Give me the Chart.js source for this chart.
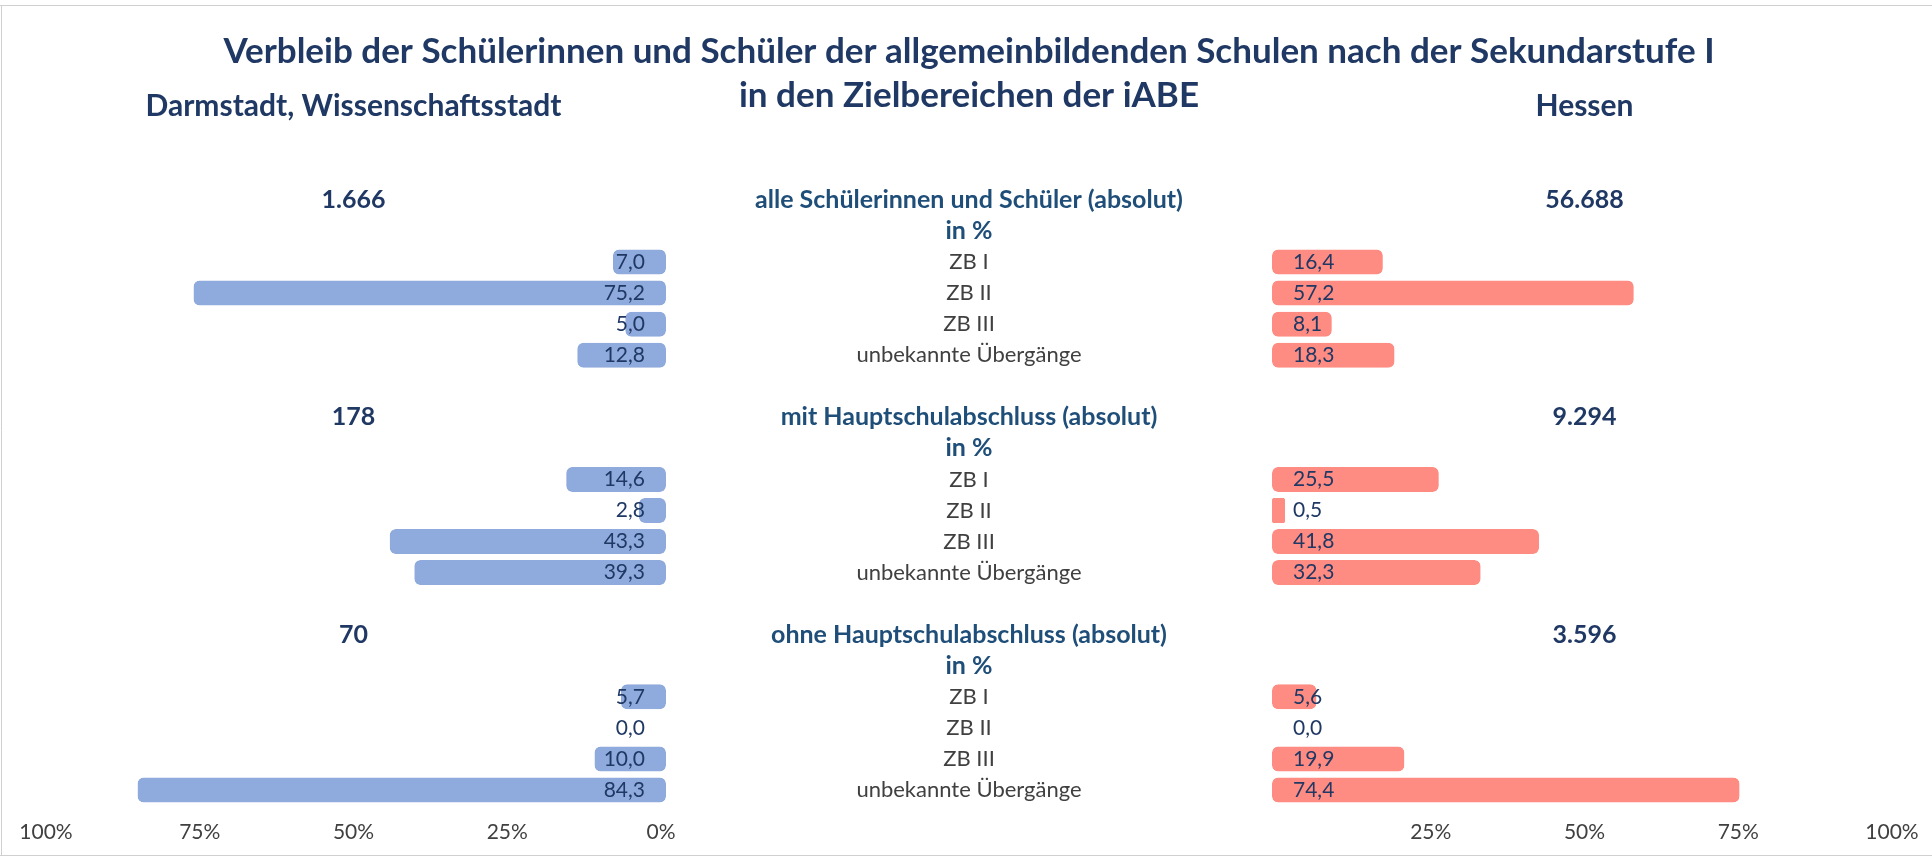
<!DOCTYPE html>
<html>
<head>
<meta charset="utf-8">
<title>Verbleib nach der Sekundarstufe I</title>
<script src="https://cdn.jsdelivr.net/npm/chart.js@4"></script>
<style>
  html, body { margin: 0; padding: 0; background: #fff; }
  #wrap { position: relative; width: 1932px; height: 857px; }
  #iabeChart { display: block; }
</style>
</head>
<body>
<div id="wrap"><canvas id="iabeChart" width="1932" height="857"></canvas></div>
<script>
// chart data
const titleLines = ['Verbleib der Schülerinnen und Schüler der allgemeinbildenden Schulen nach der Sekundarstufe I', 'in den Zielbereichen der iABE'];
const regionLeft = 'Darmstadt, Wissenschaftsstadt';
const regionRight = 'Hessen';
const groupLabels = ['alle Schülerinnen und Schüler (absolut)', 'mit Hauptschulabschluss (absolut)', 'ohne Hauptschulabschluss (absolut)'];
const unitLabel = 'in %';
const categories = ['ZB I', 'ZB II', 'ZB III', 'unbekannte Übergänge'];
const darmstadtAbs = ['1.666', '178', '70'];
const hessenAbs = ['56.688', '9.294', '3.596'];
const darmstadtPct = [
    [7.0, 75.2, 5.0, 12.8],
    [14.6, 2.8, 43.3, 39.3],
    [5.7, 0.0, 10.0, 84.3]
];
const hessenPct = [
    [16.4, 57.2, 8.1, 18.3],
    [25.5, 0.5, 41.8, 32.3],
    [5.6, 0.0, 19.9, 74.4]
];
const tickValues = [0, 25, 50, 75, 100];

const navy = '#1F3864';
const blue = '#1F4E79';
const grey = '#404040';
const FONT = 'Lato, sans-serif';

// one row per line of the chart: header, "in %", the four categories, blank
const rows = [];
groupLabels.forEach(function(g, gi) {
    rows.push({ type: 'head', g: gi });
    rows.push({ type: 'unit', g: gi });
    categories.forEach(function(c, ci) {
        rows.push({ type: 'cat', g: gi, c: ci });
    });
    if (gi < groupLabels.length - 1) rows.push({ type: 'blank' });
});
const rowLabels = rows.map(function(r) { return r.type === 'cat' ? categories[r.c] : ''; });
const leftData = rows.map(function(r) { return r.type === 'cat' ? darmstadtPct[r.g][r.c] : null; });
const rightData = rows.map(function(r) { return r.type === 'cat' ? hessenPct[r.g][r.c] : null; });

function fmt(v) { return v.toFixed(1).replace('.', ','); }

// frame around the chart
const framePlugin = {
    id: 'frame',
    beforeDraw(chart) {
        const ctx = chart.ctx;
        ctx.save();
        ctx.fillStyle = '#fff';
        ctx.fillRect(0, 0, chart.width, chart.height);
        ctx.strokeStyle = '#D0D0D0';
        ctx.lineWidth = 1;
        ctx.beginPath();
        ctx.moveTo(0, 5.5); ctx.lineTo(chart.width, 5.5);
        ctx.moveTo(1.5, 5.5); ctx.lineTo(1.5, 855.5);
        ctx.moveTo(0, 855.5); ctx.lineTo(chart.width, 855.5);
        ctx.stroke();
        ctx.restore();
    }
};

// region names, group headers, category names and value labels
const textPlugin = {
    id: 'texts',
    afterDatasetsDraw(chart) {
        const ctx = chart.ctx;
        const s = chart.scales;
        const cL = (s.xL.left + s.xL.right) / 2;
        const cM = (s.xM.left + s.xM.right) / 2;
        const cR = (s.xR.left + s.xR.right) / 2;
        const zeroL = s.xL.getPixelForValue(0);
        const zeroR = s.xR.getPixelForValue(0);
        ctx.save();
        ctx.textBaseline = 'middle';
        ctx.textAlign = 'center';
        ctx.fillStyle = navy;
        ctx.font = 'bold 30px ' + FONT;
        ctx.fillText(regionLeft, cL, 106);
        ctx.fillText(regionRight, cR, 106);

        rows.forEach(function(r, i) {
            const py = s.y.getPixelForValue(i);
            if (r.type === 'head') {
                ctx.textAlign = 'center';
                ctx.font = 'bold 25px ' + FONT;
                ctx.fillStyle = navy;
                ctx.fillText(darmstadtAbs[r.g], cL, py);
                ctx.fillText(hessenAbs[r.g], cR, py);
                ctx.fillStyle = blue;
                ctx.fillText(groupLabels[r.g], cM, py);
            } else if (r.type === 'unit') {
                ctx.textAlign = 'center';
                ctx.font = 'bold 25px ' + FONT;
                ctx.fillStyle = blue;
                ctx.fillText(unitLabel, cM, py);
            } else if (r.type === 'cat') {
                ctx.font = '22px ' + FONT;
                ctx.textAlign = 'center';
                ctx.fillStyle = grey;
                ctx.fillText(categories[r.c], cM, py);
                ctx.font = '21px ' + FONT;
                ctx.fillStyle = navy;
                ctx.textAlign = 'right';
                ctx.fillText(fmt(darmstadtPct[r.g][r.c]), zeroL - 16, py);
                ctx.textAlign = 'left';
                ctx.fillText(fmt(hessenPct[r.g][r.c]), zeroR + 16, py);
            }
        });
        ctx.restore();
    }
};

const pctTicks = {
    stepSize: 25,
    padding: 6.5,
    color: grey,
    font: { size: 21, family: FONT }
};

function fixHeight(axis) { axis.height = 51.5; }
function barPad(c) { return c.raw ? 5 : 0; }
function barBorder(c) { return c.raw ? 1 : 0; }

const ctx = document.getElementById('iabeChart').getContext('2d');
const chart = new Chart(ctx, {
    type: 'bar',
    data: {
        labels: rowLabels,
        datasets: [{
            label: regionLeft,
            data: leftData,
            xAxisID: 'xL',
            backgroundColor: '#8FAADC',
            borderColor: '#8FAADC',
            borderWidth: barBorder,
            grouped: false,
            clip: false,
            barThickness: 15,
            borderRadius: 6,
            borderSkipped: false,
            inflateAmount: barPad
        }, {
            label: regionRight,
            data: rightData,
            xAxisID: 'xR',
            backgroundColor: '#FF8C82',
            borderColor: '#FF8C82',
            borderWidth: barBorder,
            grouped: false,
            clip: false,
            barThickness: 15,
            borderRadius: 6,
            borderSkipped: false,
            inflateAmount: barPad
        }]
    },
    options: {
        indexAxis: 'y',
        responsive: false,
        maintainAspectRatio: false,
        animation: false,
        layout: { padding: { left: 46, right: 40, top: 0, bottom: 0 } },
        scales: {
            y: { type: 'category', display: false },
            xL: {
                type: 'linear', position: 'bottom', stack: 'x', stackWeight: 615,
                min: 0, max: 100, reverse: true,
                afterBuildTicks: function(axis) { axis.ticks = tickValues.map(function(v) { return { value: v }; }); },
                afterFit: fixHeight,
                ticks: Object.assign({}, pctTicks, { callback: function(v) { return v + '%'; } }),
                grid: { display: false }, border: { display: false }
            },
            xM: {
                type: 'linear', position: 'bottom', stack: 'x', stackWeight: 616,
                ticks: { display: false }, grid: { display: false }, border: { display: false }
            },
            xR: {
                type: 'linear', position: 'bottom', stack: 'x', stackWeight: 615,
                min: 0, max: 100,
                afterBuildTicks: function(axis) { axis.ticks = tickValues.map(function(v) { return { value: v }; }); },
                afterFit: fixHeight,
                ticks: Object.assign({}, pctTicks, { callback: function(v) { return v === 0 ? '' : v + '%'; } }),
                grid: { display: false }, border: { display: false }
            }
        },
        plugins: {
            legend: { display: false },
            tooltip: { enabled: false },
            title: {
                display: true,
                text: titleLines,
                color: navy,
                font: { size: 35, weight: 'bold', family: FONT, lineHeight: 1.27 },
                padding: { top: 29.5, bottom: 66 }
            }
        }
    },
    plugins: [framePlugin, textPlugin]
});
</script>
</body>
</html>
